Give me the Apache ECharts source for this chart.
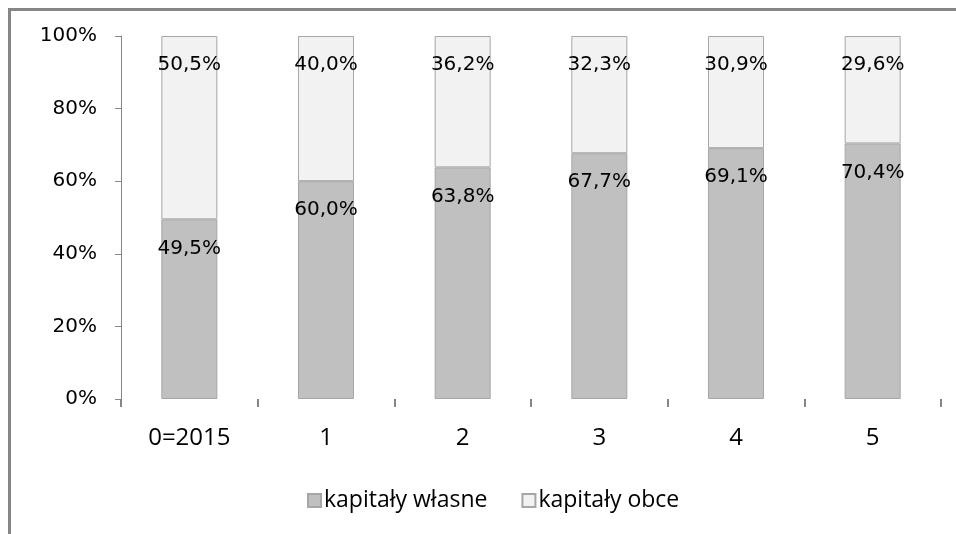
<!DOCTYPE html>
<html>
<head>
<meta charset="utf-8">
<script src="https://cdn.jsdelivr.net/npm/echarts@6/dist/echarts.min.js"></script>
<style>
  html, body { margin: 0; padding: 0; background: #fff; }
  #chart { width: 956px; height: 534px; }
</style>
</head>
<body>
<div id="chart"></div>
<script>
// Capital structure: equity vs. debt share per year
const categories = ['0=2015', '1', '2', '3', '4', '5'];
const ownCapital = [49.5, 60.0, 63.8, 67.7, 69.1, 70.4];      // kapitały własne
const foreignCapital = [50.5, 40.0, 36.2, 32.3, 30.9, 29.6];  // kapitały obce
const yTicks = [0, 20, 40, 60, 80, 100];

const fmt = v => v.toFixed(1).replace('.', ',') + '%';

const chart = echarts.init(document.getElementById('chart'), null, { renderer: 'canvas' });

const labelStyle = {
  show: true,
  position: 'insideTop',
  distance: 19,
  fontFamily: 'DejaVu Sans',
  fontSize: 20,
  color: '#000',
  formatter: p => fmt(p.value)
};

chart.setOption({
  animation: false,
  backgroundColor: '#fff',
  graphic: [{
    type: 'rect',
    shape: { x: 9.5, y: 9.5, width: 1000, height: 1000 },
    style: { fill: 'none', stroke: '#868686', lineWidth: 3 },
    silent: true
  }],
  grid: { left: 121, right: 15, top: 36, bottom: 135 },
  legend: {
    bottom: 17,
    left: 302,
    itemWidth: 13,
    itemHeight: 13,
    itemGap: 34,
    icon: 'rect',
    textStyle: { fontFamily: 'Open Sans', fontSize: 23, color: '#000', padding: [0, 0, 0, -2] },
    data: ['kapitały własne', 'kapitały obce']
  },
  xAxis: {
    type: 'category',
    data: categories,
    axisLine: { show: false },
    axisTick: { show: true, alignWithLabel: false, length: 8, lineStyle: { color: '#868686', width: 2 } },
    axisLabel: { margin: 27, fontFamily: 'Open Sans', fontSize: 24, color: '#000' }
  },
  yAxis: {
    type: 'value',
    min: 0,
    max: 100,
    interval: 20,
    axisLine: { show: true, lineStyle: { color: '#868686', width: 1 } },
    axisTick: { show: true, length: 6, lineStyle: { color: '#868686' } },
    splitLine: { show: false },
    axisLabel: {
      margin: 24,
      fontFamily: 'DejaVu Sans',
      fontSize: 20,
      color: '#000',
      formatter: v => yTicks.includes(v) ? v + '%' : ''
    }
  },
  series: [
    {
      name: 'kapitały własne',
      type: 'bar',
      stack: 'total',
      barWidth: '41%',
      data: ownCapital,
      itemStyle: { color: '#c0c0c0', borderColor: '#a6a6a6', borderWidth: 1 },
      label: labelStyle
    },
    {
      name: 'kapitały obce',
      type: 'bar',
      stack: 'total',
      barWidth: '41%',
      data: foreignCapital,
      itemStyle: { color: '#f2f2f2', borderColor: '#a6a6a6', borderWidth: 1 },
      label: labelStyle
    }
  ]
});
</script>
</body>
</html>
